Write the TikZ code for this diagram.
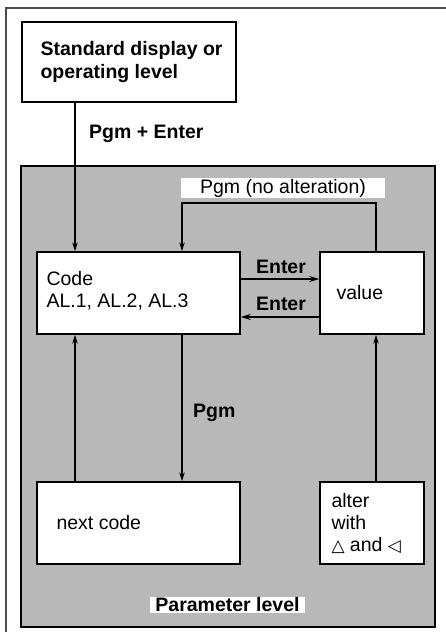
\documentclass[tikz,border=0pt]{standalone}
\usepackage{fontspec}
\setmainfont{Liberation Sans}
\newfontfamily\symfont{DejaVu Sans}
\usetikzlibrary{arrows.meta,positioning,calc}

\begin{document}
\begin{tikzpicture}[x=1pt,y=-1pt,inner sep=0pt,
  font=\fontsize{19.5}{22}\selectfont,
  box/.style={draw=black,line width=1.4pt,fill=white},
  txt/.style={align=left,anchor=west},
  lbl/.style={font=\fontsize{19.5}{22}\selectfont\bfseries},
  arr/.style={line width=1.2pt,-{Stealth[length=9pt,width=5.5pt]}},
  enter/.style={line width=2pt,-{Stealth[length=10pt,width=6pt]}}]
\useasboundingbox (0,0) rectangle (446,632);
\fill[white] (0,0) rectangle (446,632);
% outer frame
\draw[line width=1.2pt,black!70] (446,8) -- (6,8) -- (6,632);
% parameter level
\draw[line width=1.4pt,fill=black!28] (21,166) rectangle (435,627);

% boxes
\node[box,minimum width=214pt,minimum height=80pt] (top) at (129,62) {};
\node[box,minimum width=203pt,minimum height=82pt] (code) at (138.5,293) {};
\node[box,minimum width=104pt,minimum height=82pt] (value) at (372,293) {};
\node[box,minimum width=203pt,minimum height=82pt] (next) at (138.5,523) {};
\node[box,minimum width=104pt,minimum height=82pt] (alter) at (372,523) {};

% box texts
\node[txt,font=\fontsize{19.5}{22.5}\selectfont\bfseries] (topT) at ([xshift=19pt]top.west) {Standard display or\\operating level};
\node[txt] (codeT) at ([xshift=10pt,yshift=2pt]code.west) {Code\\AL.1, AL.2, AL.3};
\node[txt] (valueT) at ([xshift=17pt]value.west) {value};
\node[txt] (nextT) at ([xshift=20pt]next.west) {next code};
\node[txt] (alterT) at ([xshift=12pt]alter.west) {alter\\with\\{\symfont\bfseries\fontsize{17}{22}\selectfont △}\ and {\symfont\bfseries\fontsize{17}{22}\selectfont ◁}};

% labels
\node[lbl,anchor=west] (pgmenter) at (89,134) {Pgm + Enter};
\node[fill=white,minimum width=204pt,minimum height=20pt] (noalt) at (283,188) {Pgm (no alteration)};
\node[lbl,anchor=south] (enter1) at (281,274) {Enter};
\node[lbl,anchor=south] (enter2) at (281,311) {Enter};
\node[lbl,anchor=west] (pgm) at (193,413) {Pgm};
\node[lbl,fill=white,minimum width=155pt,minimum height=16pt] (plevel) at (227.5,604.5) {Parameter level};

% connectors
\coordinate (loop) at (376,203);
\draw[arr] (75,0 |- top.south) -- (75,0 |- code.north);
\draw[arr] (376,0 |- value.north) -- (loop) -| (182,0 |- code.north);
\draw[enter] (code.east |- 0,279) -- (value.west |- 0,279);
\draw[enter] (value.west |- 0,317) -- (code.east |- 0,317);
\draw[arr] (182,0 |- code.south) -- (182,0 |- next.north);
\draw[arr] (75,0 |- next.north) -- (75,0 |- code.south);
\draw[arr] (376,0 |- alter.north) -- (376,0 |- value.south);
\end{tikzpicture}
\end{document}
